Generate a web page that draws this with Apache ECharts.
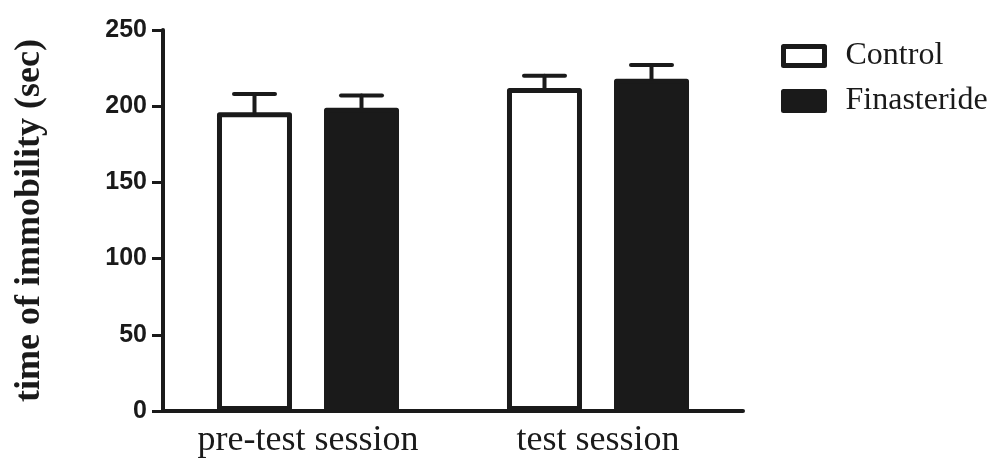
<!DOCTYPE html>
<html>
<head>
<meta charset="utf-8">
<script src="https://cdn.jsdelivr.net/npm/echarts@6/dist/echarts.min.js"></script>
<style>
html,body{margin:0;padding:0;background:#fff;}
#chart{width:992px;height:459px;}
</style>
</head>
<body>
<div id="chart"></div>
<script>
// ---- data ----
const categories = ['pre-test session', 'test session'];
const seriesNames = ['Control', 'Finasteride'];
const controlValues = [196, 212];
const finasterideValues = [199, 218];
const controlErrors = [12, 8];     // upper SEM
const finasterideErrors = [8, 9];
const yTicks = [0, 50, 100, 150, 200, 250];

// ---- style constants ----
const INK = '#1a1a1a';
const BAR_WIDTH = 75;
const BAR_GAP_PX = 32;
const CAP_WIDTH = 41;

const chart = echarts.init(document.getElementById('chart'), null, {renderer: 'canvas'});

function errorSeries(name, values, errors, sign) {
  const data = values.map((v, i) => [i, v, v + errors[i]]);
  return {
    type: 'custom',
    name: name + ' error',
    z: 5,
    silent: true,
    data: data,
    encode: {x: 0, y: [1, 2]},
    renderItem: function (params, api) {
      const ci = api.value(0);
      const p0 = api.coord([ci, api.value(1)]);
      const p1 = api.coord([ci, api.value(2)]);
      const off = sign * (BAR_WIDTH + BAR_GAP_PX) / 2;
      const x = p0[0] + off;
      const style = {stroke: INK, lineWidth: 4, lineCap: 'round'};
      return {
        type: 'group',
        children: [
          {type: 'line', shape: {x1: x, y1: p0[1], x2: x, y2: p1[1]}, style: style},
          {type: 'line', shape: {x1: x - CAP_WIDTH / 2, y1: p1[1], x2: x + CAP_WIDTH / 2, y2: p1[1]}, style: style}
        ]
      };
    }
  };
}

const option = {
  backgroundColor: '#ffffff',
  animation: false,
  grid: {left: 163, right: 249, top: 30, bottom: 44.5, containLabel: false},
  legend: {
    orient: 'vertical',
    left: 781,
    top: 40,
    padding: 0,
    itemWidth: 41,
    itemHeight: 19,
    itemGap: 13,
    icon: 'rect',
    textStyle: {fontFamily: 'Liberation Serif', fontSize: 32, color: INK, padding: [0, 0, 0, 16]},
    data: [
      {name: seriesNames[0], itemStyle: {color: '#ffffff', borderColor: INK, borderWidth: 5}},
      {name: seriesNames[1], itemStyle: {color: INK, borderColor: INK, borderWidth: 5}}
    ]
  },
  xAxis: {
    type: 'category',
    data: categories,
    axisLine: {lineStyle: {color: INK, width: 4}},
    axisTick: {alignWithLabel: true, length: 10, lineStyle: {color: INK, width: 3}},
    axisLabel: {fontFamily: 'Liberation Serif', fontSize: 36, color: INK, margin: 12},
    splitLine: {show: false}
  },
  yAxis: {
    type: 'value',
    min: yTicks[0],
    max: yTicks[yTicks.length - 1],
    interval: yTicks[1] - yTicks[0],
    name: 'time of immobility (sec)',
    nameLocation: 'middle',
    nameGap: 115,
    nameTextStyle: {fontFamily: 'Liberation Serif', fontWeight: 'bold', fontSize: 36, color: INK},
    axisLine: {show: true, lineStyle: {color: INK, width: 4}},
    axisTick: {show: true, length: 11, lineStyle: {color: INK, width: 3}},
    axisLabel: {fontFamily: 'Liberation Sans', fontWeight: 'bold', fontSize: 25, color: INK, margin: 16},
    splitLine: {show: false}
  },
  series: [
    {
      name: seriesNames[0],
      type: 'bar',
      data: controlValues,
      barWidth: BAR_WIDTH,
      barGap: (BAR_GAP_PX / BAR_WIDTH * 100).toFixed(1) + '%',
      itemStyle: {color: '#ffffff', borderColor: INK, borderWidth: 5, borderJoin: 'round'}
    },
    {
      name: seriesNames[1],
      type: 'bar',
      data: finasterideValues,
      barWidth: BAR_WIDTH,
      barGap: (BAR_GAP_PX / BAR_WIDTH * 100).toFixed(1) + '%',
      itemStyle: {color: INK, borderColor: INK, borderWidth: 5, borderJoin: 'round'}
    },
    errorSeries(seriesNames[0], controlValues, controlErrors, -1),
    errorSeries(seriesNames[1], finasterideValues, finasterideErrors, 1)
  ]
};
chart.setOption(option);
</script>
</body>
</html>
